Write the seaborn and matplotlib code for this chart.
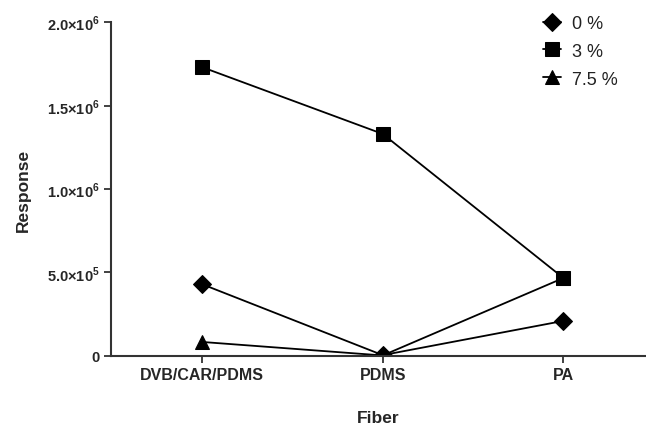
import matplotlib
matplotlib.use("Agg")
import matplotlib.pyplot as plt
import seaborn as sns
import pandas as pd
import numpy as np

fibers = ["DVB/CAR/PDMS", "PDMS", "PA"]
series = ["0 %", "3 %", "7.5 %"]
resp_0 = [430000, 5000, 210000]
resp_3 = [1730000, 1330000, 467000]
resp_75 = [84000, 3000, 467000]
yticks = [0, 500000, 1000000, 1500000, 2000000]
ytick_labels = ["0", r"5.0$\times$10$^{5}$", r"1.0$\times$10$^{6}$", r"1.5$\times$10$^{6}$", r"2.0$\times$10$^{6}$"]

rows = []
for s, vals in zip(series, [resp_0, resp_3, resp_75]):
    for f, v in zip(fibers, vals):
        rows.append({"Fiber": f, "Response": v, "Series": s})
df = pd.DataFrame(rows)

sns.set_style("ticks")
plt.rcParams["font.family"] = ["Liberation Sans", "DejaVu Sans"]
plt.rcParams["mathtext.fontset"] = "custom"
plt.rcParams["mathtext.rm"] = "Liberation Sans:bold"
plt.rcParams["mathtext.bf"] = "Liberation Sans:bold"

fig = plt.figure(figsize=(6.46, 4.27), dpi=100)
ax = fig.add_axes([0.172, 0.164, 0.826, 0.782])

sns.lineplot(data=df, x="Fiber", y="Response", hue="Series", style="Series",
             palette=["black"] * 3, markers={"0 %": "D", "3 %": "s", "7.5 %": "^"},
             dashes=False, sort=False, markersize=9.5, linewidth=1.3,
             markeredgecolor="black", ax=ax)

ax.set_ylim(0, 2000000)
ax.set_xlim(-0.503, 2.45)
ax.set_yticks(yticks)
ax.set_yticklabels(ytick_labels)
ax.set_xticks(range(len(fibers)))
ax.set_xticklabels(fibers)
for lab in ax.get_yticklabels():
    lab.set_fontweight("bold")
    lab.set_fontsize(10.5)
for lab in ax.get_xticklabels():
    lab.set_fontweight("bold")
    lab.set_fontsize(11.5)
ax.tick_params(axis="both", direction="out", length=5, width=1.3, color="#333333", pad=3)
for sp in ["left", "bottom"]:
    ax.spines[sp].set_linewidth(1.5)
    ax.spines[sp].set_color("#333333")
sns.despine(ax=ax)

ax.set_xlabel("Fiber", fontsize=12.5, fontweight="bold", labelpad=20)
ax.set_ylabel("Response", fontsize=12.5, fontweight="bold", labelpad=12)

leg = ax.legend(title=None, frameon=False, loc="upper right", bbox_to_anchor=(0.98, 1.07),
                handlelength=1.0, fontsize=13, handletextpad=0.6, labelspacing=0.6)
for t in leg.get_texts():
    t.set_color("#222222")

fig.savefig("out.png", dpi=100)
